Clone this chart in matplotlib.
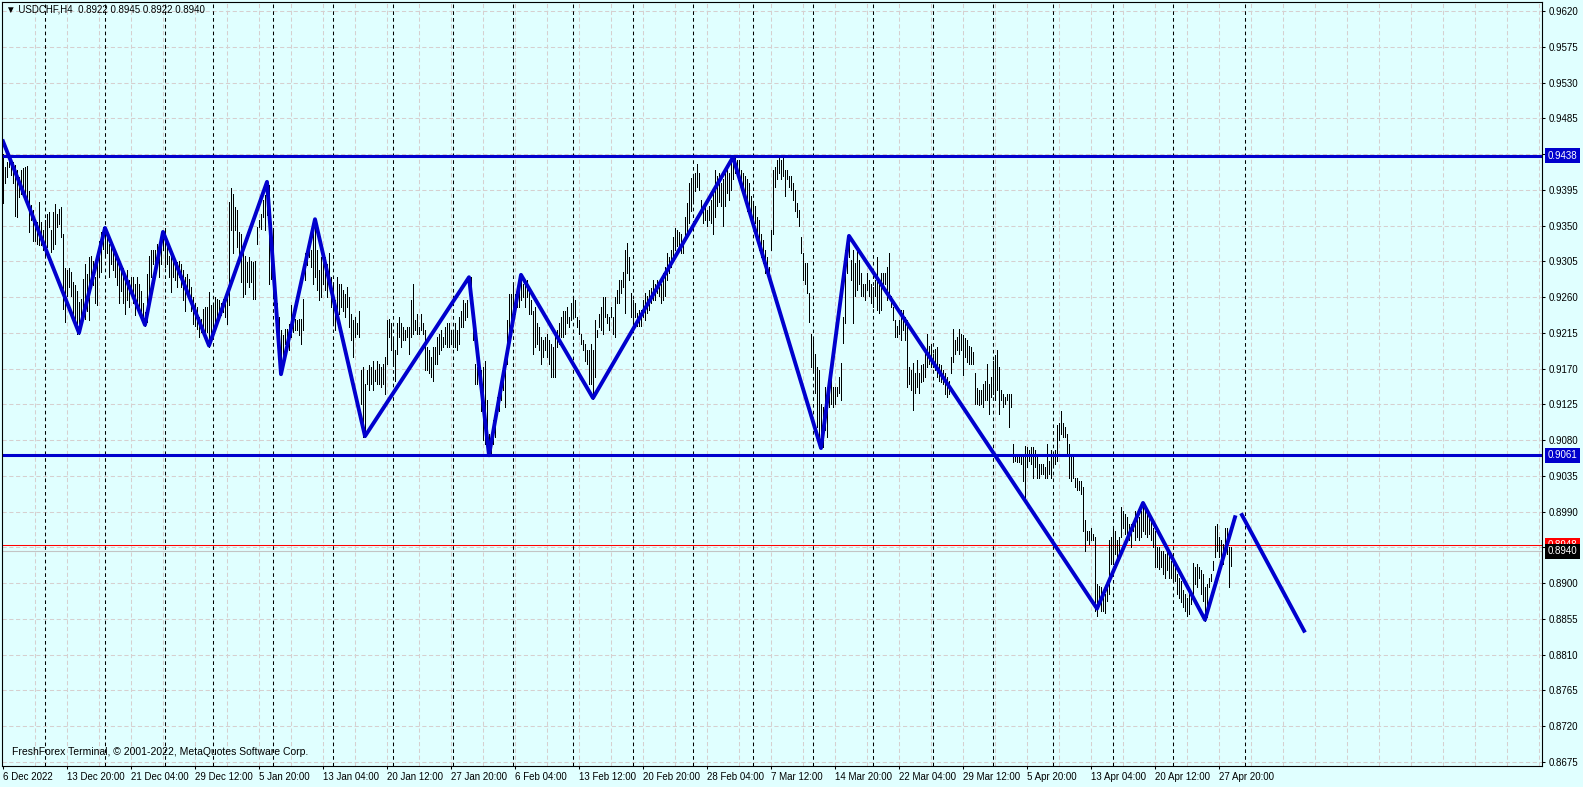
import numpy as np
import matplotlib
matplotlib.use("Agg")
import matplotlib.pyplot as plt

plt.rcParams['font.family'] = ['Liberation Sans', 'DejaVu Sans']

# --- 資料 ---
header_text = "▼ USDCHF,H4  0.8922 0.8945 0.8922 0.8940"
copyright_text = "FreshForex Terminal, © 2001-2022, MetaQuotes Software Corp."

# H4 bars, high / low in pips (price * 10000)
high_pips = [
    9440, 9424, 9430, 9439, 9428, 9430, 9426, 9420, 9411, 9420,
    9422, 9424, 9425, 9394, 9376, 9369, 9348, 9354, 9380, 9354,
    9344, 9357, 9365, 9367, 9344, 9367, 9377, 9365, 9371, 9373,
    9340, 9296, 9294, 9296, 9292, 9279, 9275, 9268, 9254, 9258,
    9283, 9302, 9289, 9310, 9312, 9306, 9285, 9306, 9331, 9342,
    9348, 9347, 9338, 9327, 9331, 9323, 9310, 9306, 9298, 9294,
    9296, 9285, 9294, 9281, 9285, 9285, 9277, 9285, 9277, 9268,
    9252, 9241, 9289, 9312, 9319, 9319, 9319, 9327, 9323, 9331,
    9342, 9344, 9327, 9312, 9319, 9310, 9306, 9304, 9306, 9302,
    9294, 9285, 9289, 9283, 9273, 9260, 9252, 9247, 9235, 9233,
    9245, 9247, 9247, 9266, 9250, 9252, 9260, 9258, 9256, 9252,
    9258, 9256, 9260, 9380, 9397, 9390, 9373, 9369, 9342, 9340,
    9321, 9312, 9304, 9310, 9306, 9304, 9306, 9348, 9357, 9365,
    9382, 9388, 9405, 9401, 9348, 9344, 9275, 9252, 9235, 9218,
    9212, 9220, 9220, 9226, 9250, 9235, 9233, 9231, 9233, 9233,
    9258, 9315, 9323, 9331, 9319, 9357, 9358, 9319, 9294, 9311,
    9306, 9311, 9302, 9315, 9285, 9277, 9256, 9285, 9277, 9277,
    9269, 9264, 9273, 9260, 9239, 9231, 9235, 9227, 9243, 9168,
    9172, 9151, 9168, 9174, 9172, 9180, 9168, 9180, 9176, 9172,
    9176, 9185, 9231, 9233, 9227, 9210, 9193, 9227, 9235, 9227,
    9222, 9218, 9222, 9222, 9256, 9277, 9231, 9239, 9222, 9239,
    9227, 9218, 9197, 9193, 9185, 9197, 9197, 9210, 9214, 9218,
    9210, 9222, 9227, 9227, 9218, 9218, 9227, 9218, 9235, 9243,
    9256, 9252, 9256, 9285, 9285, 9248, 9176, 9172, 9176, 9168,
    9172, 9180, 9130, 9088, 9084, 9105, 9117, 9134, 9134, 9151,
    9168, 9172, 9231, 9264, 9264, 9277, 9264, 9269, 9277, 9288,
    9277, 9277, 9281, 9269, 9256, 9243, 9248, 9227, 9222, 9210,
    9206, 9210, 9214, 9206, 9201, 9197, 9210, 9218, 9227, 9235,
    9243, 9243, 9248, 9235, 9252, 9260, 9256, 9235, 9231, 9214,
    9206, 9201, 9193, 9193, 9201, 9193, 9231, 9218, 9239, 9248,
    9260, 9260, 9239, 9235, 9248, 9235, 9260, 9269, 9282, 9282,
    9292, 9319, 9328, 9311, 9265, 9256, 9252, 9240, 9244, 9244,
    9256, 9265, 9261, 9269, 9271, 9282, 9277, 9282, 9273, 9277,
    9290, 9298, 9315, 9311, 9319, 9336, 9347, 9345, 9342, 9340,
    9332, 9361, 9378, 9403, 9410, 9414, 9416, 9427, 9416, 9382,
    9376, 9374, 9370, 9374, 9382, 9395, 9420, 9412, 9416, 9403,
    9408, 9416, 9424, 9416, 9433, 9437, 9437, 9433, 9433, 9420,
    9416, 9412, 9408, 9403, 9387, 9380, 9374, 9361, 9357, 9340,
    9332, 9319, 9311, 9298, 9345, 9420, 9424, 9433, 9435, 9433,
    9435, 9420, 9420, 9412, 9412, 9403, 9395, 9378, 9370, 9336,
    9315, 9303, 9303, 9265, 9214, 9206, 9189, 9172, 9168, 9126,
    9122, 9147, 9143, 9147, 9164, 9147, 9147, 9147, 9160, 9177,
    9235, 9319, 9332, 9337, 9307, 9319, 9303, 9319, 9307, 9290,
    9277, 9277, 9290, 9282, 9277, 9273, 9282, 9311, 9282, 9290,
    9290, 9290, 9298, 9315, 9261, 9248, 9231, 9223, 9231, 9244,
    9244, 9235, 9231, 9172, 9168, 9177, 9164, 9181, 9164, 9174,
    9176, 9193, 9214, 9199, 9201, 9189, 9195, 9197, 9176, 9174,
    9168, 9164, 9159, 9155, 9185, 9220, 9206, 9210, 9220, 9214,
    9212, 9208, 9206, 9199, 9197, 9191, 9164, 9145, 9143, 9143,
    9151, 9155, 9176, 9151, 9159, 9180, 9187, 9193, 9172, 9143,
    9138, 9134, 9138, 9138, 9138, 9075, 9061, 9059, 9059, 9059,
    9059, 9073, 9071, 9067, 9071, 9071, 9067, 9063, 9050, 9050,
    9050, 9046, 9075, 9054, 9067, 9063, 9067, 9099, 9101, 9117,
    9101, 9096, 9088, 9075, 9059, 9059, 9033, 9033, 9029, 9029,
    9021, 8979, 8966, 8966, 8970, 8962, 8958, 8899, 8897, 8895,
    8889, 8886, 8903, 8954, 8958, 8970, 8966, 8954, 8958, 8996,
    8991, 8987, 8983, 8975, 8975, 8975, 8991, 8987, 8983, 8991,
    9000, 8996, 8987, 8983, 8979, 8970, 8966, 8945, 8945, 8941,
    8941, 8937, 8945, 8937, 8928, 8928, 8924, 8912, 8907, 8903,
    8891, 8886, 8882, 8886, 8886, 8926, 8920, 8924, 8920, 8916,
    8912, 8895, 8899, 8907, 8912, 8928, 8972, 8975, 8958, 8954,
    8949, 8970, 8970, 8945, 8945,
]
low_pips = [
    9378, 9403, 9411, 9424, 9413, 9403, 9362, 9361, 9386, 9390,
    9397, 9386, 9380, 9342, 9357, 9331, 9331, 9327, 9325, 9325,
    9319, 9310, 9323, 9348, 9317, 9321, 9327, 9348, 9352, 9336,
    9245, 9229, 9262, 9273, 9262, 9235, 9226, 9214, 9214, 9229,
    9237, 9233, 9243, 9231, 9277, 9275, 9252, 9250, 9285, 9292,
    9321, 9312, 9315, 9285, 9302, 9294, 9285, 9275, 9252, 9268,
    9252, 9239, 9256, 9247, 9264, 9252, 9237, 9250, 9241, 9239,
    9229, 9224, 9229, 9260, 9285, 9302, 9302, 9310, 9285, 9302,
    9319, 9298, 9302, 9285, 9266, 9285, 9281, 9273, 9285, 9273,
    9256, 9243, 9264, 9256, 9243, 9226, 9224, 9220, 9210, 9216,
    9212, 9208, 9216, 9197, 9214, 9218, 9222, 9226, 9235, 9237,
    9241, 9235, 9226, 9250, 9344, 9315, 9344, 9323, 9306, 9279,
    9260, 9264, 9279, 9273, 9279, 9258, 9258, 9327, 9348, 9346,
    9361, 9344, 9363, 9277, 9283, 9260, 9258, 9222, 9189, 9163,
    9180, 9201, 9201, 9193, 9210, 9216, 9218, 9218, 9212, 9201,
    9218, 9281, 9300, 9310, 9298, 9277, 9285, 9269, 9256, 9260,
    9277, 9269, 9260, 9277, 9248, 9227, 9218, 9235, 9239, 9248,
    9243, 9235, 9248, 9222, 9206, 9185, 9210, 9214, 9210, 9126,
    9084, 9084, 9151, 9143, 9151, 9143, 9155, 9151, 9151, 9147,
    9151, 9138, 9176, 9210, 9193, 9176, 9155, 9189, 9210, 9197,
    9206, 9206, 9210, 9189, 9210, 9214, 9218, 9214, 9214, 9218,
    9214, 9168, 9168, 9164, 9159, 9155, 9176, 9176, 9189, 9193,
    9197, 9201, 9197, 9197, 9201, 9197, 9197, 9193, 9201, 9222,
    9222, 9231, 9235, 9264, 9256, 9206, 9151, 9151, 9155, 9117,
    9080, 9075, 9075, 9061, 9063, 9075, 9084, 9117, 9117, 9130,
    9143, 9122, 9176, 9206, 9227, 9235, 9239, 9248, 9248, 9256,
    9260, 9248, 9260, 9239, 9239, 9189, 9197, 9201, 9193, 9176,
    9185, 9193, 9185, 9176, 9159, 9159, 9159, 9197, 9201, 9210,
    9210, 9214, 9227, 9222, 9231, 9235, 9235, 9222, 9214, 9201,
    9193, 9180, 9176, 9151, 9151, 9132, 9160, 9210, 9222, 9218,
    9214, 9235, 9227, 9218, 9235, 9214, 9210, 9252, 9252, 9265,
    9273, 9240, 9290, 9282, 9235, 9223, 9235, 9223, 9223, 9223,
    9235, 9231, 9240, 9244, 9252, 9256, 9256, 9265, 9261, 9252,
    9256, 9261, 9282, 9290, 9298, 9307, 9319, 9324, 9319, 9315,
    9315, 9332, 9336, 9353, 9368, 9380, 9393, 9399, 9395, 9370,
    9353, 9357, 9349, 9357, 9353, 9340, 9361, 9374, 9380, 9374,
    9349, 9374, 9391, 9382, 9395, 9408, 9416, 9412, 9408, 9395,
    9391, 9387, 9368, 9370, 9361, 9349, 9353, 9340, 9319, 9311,
    9303, 9290, 9290, 9286, 9319, 9340, 9399, 9408, 9416, 9408,
    9412, 9387, 9408, 9399, 9395, 9382, 9368, 9361, 9349, 9315,
    9282, 9277, 9265, 9229, 9172, 9168, 9139, 9097, 9080, 9070,
    9072, 9093, 9084, 9122, 9126, 9122, 9126, 9135, 9139, 9130,
    9202, 9227, 9290, 9311, 9282, 9227, 9261, 9269, 9277, 9261,
    9261, 9256, 9269, 9261, 9252, 9248, 9261, 9244, 9240, 9244,
    9273, 9277, 9256, 9265, 9248, 9231, 9210, 9210, 9214, 9206,
    9219, 9206, 9147, 9151, 9143, 9118, 9139, 9147, 9139, 9153,
    9155, 9159, 9172, 9176, 9172, 9172, 9168, 9159, 9155, 9153,
    9151, 9138, 9134, 9138, 9164, 9178, 9189, 9193, 9189, 9193,
    9162, 9185, 9178, 9176, 9176, 9176, 9126, 9126, 9124, 9126,
    9122, 9130, 9130, 9113, 9134, 9138, 9130, 9143, 9113, 9130,
    9122, 9126, 9130, 9096, 9122, 9052, 9054, 9052, 9052, 9050,
    9029, 9004, 9046, 9054, 9050, 9033, 9046, 9033, 9033, 9038,
    9038, 9033, 9033, 9038, 9033, 9046, 9050, 9054, 9080, 9088,
    9084, 9084, 9063, 9033, 9029, 9033, 9021, 9017, 9017, 9012,
    8966, 8941, 8954, 8949, 8954, 8954, 8865, 8859, 8878, 8865,
    8865, 8863, 8878, 8886, 8924, 8924, 8937, 8933, 8933, 8958,
    8970, 8962, 8962, 8954, 8945, 8966, 8954, 8958, 8954, 8958,
    8966, 8962, 8958, 8962, 8954, 8945, 8920, 8920, 8918, 8920,
    8912, 8907, 8916, 8907, 8907, 8903, 8903, 8886, 8882, 8876,
    8870, 8865, 8859, 8861, 8874, 8886, 8899, 8895, 8907, 8886,
    8878, 8853, 8857, 8895, 8903, 8916, 8933, 8941, 8933, 8928,
    8924, 8945, 8937, 8895, 8922,
]

# ZigZag turning points (bar index, price in pips)
zigzag_bar = [0, 38, 51, 71, 80, 103, 132, 139, 156, 181, 233, 243, 259,
              295, 365, 409, 423, 547, 570, 601, 616]
zigzag_pips = [9456, 9215, 9347, 9225, 9342, 9199, 9405, 9163, 9358, 9085,
               9285, 9061, 9288, 9133, 9436, 9070, 9337, 8868, 9001, 8854, 8983]
forecast_bar = [619, 651]
forecast_pips = [8988, 8838]

level_prices = [0.9438, 0.9061]
ask_price = 0.8948
bid_price = 0.8940

# weekly period separators (bar index)
separator_bar = [21, 51, 81, 105, 135, 165, 195, 225, 255, 285, 315, 345,
                 375, 405, 435, 465, 495, 525, 555, 585, 621]

date_labels = ["6 Dec 2022", "13 Dec 20:00", "21 Dec 04:00", "29 Dec 12:00",
               "5 Jan 20:00", "13 Jan 04:00", "20 Jan 12:00", "27 Jan 20:00",
               "6 Feb 04:00", "13 Feb 12:00", "20 Feb 20:00", "28 Feb 04:00",
               "7 Mar 12:00", "14 Mar 20:00", "22 Mar 04:00", "29 Mar 12:00",
               "5 Apr 20:00", "13 Apr 04:00", "20 Apr 12:00", "27 Apr 20:00"]
label_step = 32

price_ticks = [0.8675, 0.8720, 0.8765, 0.8810, 0.8855, 0.8900, 0.8945, 0.8990,
               0.9035, 0.9080, 0.9125, 0.9170, 0.9215, 0.9260, 0.9305, 0.9350,
               0.9395, 0.9440, 0.9485, 0.9530, 0.9575, 0.9620]
hidden_ticks = [0.8945, 0.9440]

# --- 樣式 ---
BG = '#E0FFFF'
BLUE = '#0000CD'
GRID = '#D6CFCF'
W, H = 1583, 787

fig = plt.figure(figsize=(W / 100, H / 100), dpi=100, facecolor=BG)
ax = fig.add_axes([2 / W, 21 / H, 1540 / W, 764 / H])
ax.set_facecolor(BG)
ax.set_xlim(-0.5, 769.5)
ax.set_ylim(0.86700, 0.96313)

# grid
for p in price_ticks:
    ax.axhline(p, color=GRID, lw=0.75, linestyle=(0, (4, 2.5)), zorder=0.5)
for gx in np.arange(label_step // 2, 770, label_step // 2):
    ax.axvline(gx, color=GRID, lw=0.75, linestyle=(0, (4, 2.5)), zorder=0.5)
for s in separator_bar:
    ax.axvline(s, color='black', lw=0.75, linestyle=(0, (3.5, 3)), zorder=0.6)

# bid / ask lines
ax.axhline(bid_price, color='#C4C4C4', lw=0.8, zorder=0.7)
ax.axhline(ask_price, color='red', lw=0.75, zorder=0.8)

# bars (1 px wide)
n = min(len(high_pips), len(low_pips))
bar_x = np.arange(n)
hi = np.array(high_pips[:n]) / 10000.0
lo = np.array(low_pips[:n]) / 10000.0
ax.vlines(bar_x, lo, hi, colors='black', lw=0.62, antialiased=False, zorder=1)

# level lines and zigzag
for p in level_prices:
    ax.axhline(p, color=BLUE, lw=2.2, zorder=2)
ax.plot(zigzag_bar, np.array(zigzag_pips) / 10000.0, color=BLUE, lw=2.8,
        solid_joinstyle='round', zorder=2.2)
ax.plot(forecast_bar, np.array(forecast_pips) / 10000.0, color=BLUE, lw=2.8,
        solid_capstyle='butt', zorder=2.2)

# axes / ticks
for sp in ax.spines.values():
    sp.set_color('black')
    sp.set_linewidth(0.8)

ax.yaxis.tick_right()
ax.set_yticks(price_ticks)
ax.set_yticklabels(['' if p in hidden_ticks else f'{p:.4f}' for p in price_ticks])
ax.tick_params(axis='y', direction='out', length=2.5, width=0.75, pad=2,
               labelsize=7, colors='black')

xt = [k * label_step for k in range(len(date_labels))]
ax.set_xticks(xt)
ax.set_xticklabels(date_labels, ha='left')
ax.tick_params(axis='x', direction='out', length=2.5, width=0.75, pad=1.5,
               labelsize=7, colors='black')

# price tags on the right scale
tags = [(level_prices[0], BLUE), (level_prices[1], BLUE),
        (ask_price, 'red'), (bid_price, 'black')]
for p, c in tags:
    ax.annotate(f'{p:.4f}', xy=(1.0, p), xycoords=('axes fraction', 'data'),
                xytext=(4.2, 0), textcoords='offset points', ha='left', va='center',
                fontsize=7, color='white', annotation_clip=False, zorder=5,
                bbox=dict(boxstyle='square,pad=0.25', fc=c, ec='none'))

# header and copyright
fig.text(6 / W, 1 - 10 / H, header_text, fontsize=7, va='center', ha='left',
         color='black', family=['Liberation Sans', 'DejaVu Sans'])
ax.text(10 / 1540, 14 / 764, copyright_text, transform=ax.transAxes,
        fontsize=7.5, va='center', ha='left', color='black')

fig.savefig('out.png', dpi=100, facecolor=BG)
